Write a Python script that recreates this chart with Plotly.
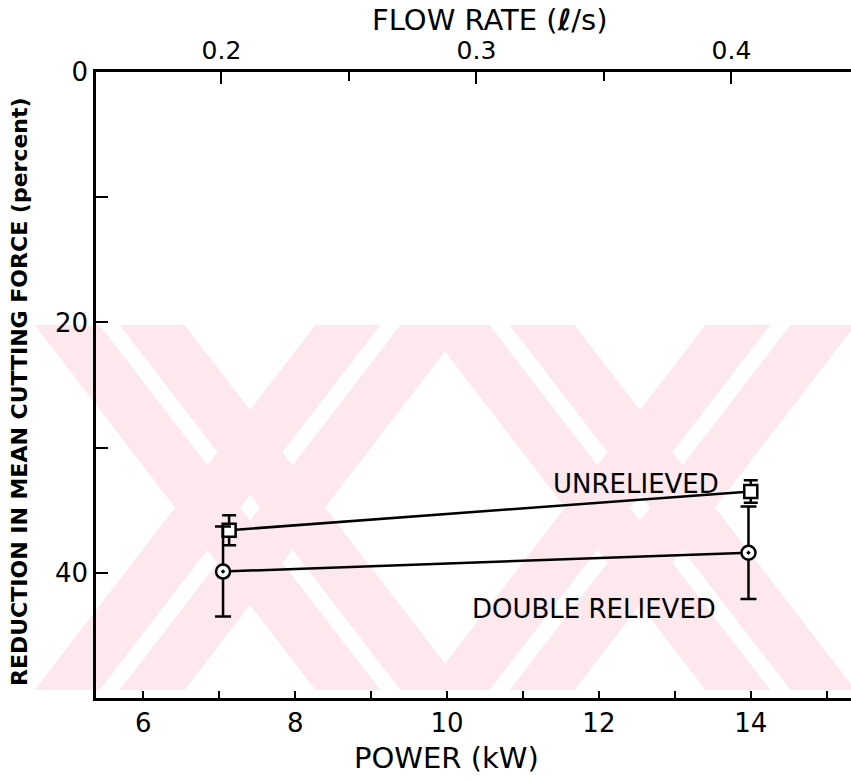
import plotly.graph_objects as go

# Mean cutting force reduction vs. jet power (flow rate on the top scale)
unrel_power = [7.13, 14.0]
unrel_reduction = [36.6, 33.5]
unrel_err = [1.2, 0.9]

dbl_power = [7.05, 13.97]
dbl_reduction = [39.9, 38.4]
dbl_err = [3.6, 3.7]

power_ticks = [6, 8, 10, 12, 14]
reduction_ticks = [0, 20, 40]
flow_ticks = [0.2, 0.3, 0.4]

# plot area in pixels
W, H = 851, 781
L, R, T, B = 96, 851, 72, 698


def px(x, y):
    return (x - L) / (R - L), (B - y) / (B - T)


def poly(points):
    pts = [px(x, y) for x, y in points]
    return "M " + " L ".join(f"{a:.4f},{b:.4f}" for a, b in pts) + " Z"


PINK = "rgb(253,233,237)"
shapes = []
# faint background emblem: two large crossed marks drawn with doubled strokes
ytop, ybot = 325, 690
mid = (ytop + ybot) / 2
slope = 1.3
half = 75      # half stroke width (horizontal)
gap = 10       # half width of the thin light line inside each stroke


def arm(cx, direction, lo, hi):
    # direction +1 for "\" (down-right), -1 for "/" (down-left)
    xt = cx - direction * (mid - ytop) / slope
    xb = cx + direction * (ybot - mid) / slope
    return poly([(xt + lo, ytop), (xt + hi, ytop), (xb + hi, ybot), (xb + lo, ybot)])


for cx in [250, 640]:
    for d in (1, -1):
        for lo, hi in [(-half, -gap), (gap, half)]:
            shapes.append(dict(type="path", xref="paper", yref="paper", layer="below",
                               fillcolor=PINK, line=dict(width=0), path=arm(cx, d, lo, hi)))

FONT = "DejaVu Sans"
LW = 2.5

fig = go.Figure()
fig.add_trace(go.Scatter(
    x=unrel_power, y=unrel_reduction, mode="lines+markers",
    line=dict(color="black", width=LW),
    marker=dict(symbol="square", size=13, color="white", line=dict(color="black", width=LW)),
    error_y=dict(type="data", array=unrel_err, color="black", thickness=LW, width=7),
    showlegend=False))
fig.add_trace(go.Scatter(
    x=dbl_power, y=dbl_reduction, mode="lines+markers",
    line=dict(color="black", width=LW),
    marker=dict(symbol="circle-dot", size=14, color="white", line=dict(color="black", width=LW)),
    error_y=dict(type="data", array=dbl_err, color="black", thickness=LW, width=8),
    showlegend=False))
# invisible trace carrying the flow-rate scale
fig.add_trace(go.Scatter(x=flow_ticks, y=[None] * len(flow_ticks), xaxis="x2",
                         mode="markers", showlegend=False, hoverinfo="skip"))

fig.add_annotation(x=13.61, y=32.9, text="UNRELIEVED", showarrow=False,
                   xanchor="right", yanchor="middle", font=dict(family=FONT, size=26, color="black"))
fig.add_annotation(x=13.57, y=42.9, text="DOUBLE RELIEVED", showarrow=False,
                   xanchor="right", yanchor="middle", font=dict(family=FONT, size=26, color="black"))

ax, ay = px(490, 20)
fig.add_annotation(xref="paper", yref="paper", x=ax, y=ay, text="FLOW RATE (<b><i>ℓ</i></b>/s)",
                   showarrow=False, xanchor="center", yanchor="middle",
                   font=dict(family=FONT, size=29, color="black"))
ax, ay = px(446, 758)
fig.add_annotation(xref="paper", yref="paper", x=ax, y=ay, text="POWER (kW)",
                   showarrow=False, xanchor="center", yanchor="middle",
                   font=dict(family=FONT, size=29, color="black"))
ax, ay = px(19, 392)
fig.add_annotation(xref="paper", yref="paper", x=ax, y=ay,
                   text="REDUCTION IN MEAN CUTTING FORCE (percent)", textangle=-90,
                   showarrow=False, xanchor="center", yanchor="middle",
                   font=dict(family=FONT, size=22, color="black", weight="bold"))

axis_common = dict(showline=True, linecolor="black", linewidth=LW, showgrid=False,
                   zeroline=False, ticks="inside", tickcolor="black", tickwidth=2,
                   tickfont=dict(family=FONT, size=26, color="black"))

fig.update_layout(
    width=W, height=H, margin=dict(l=L, r=W - R, t=T, b=H - B),
    plot_bgcolor="rgba(0,0,0,0)", paper_bgcolor="white",
    shapes=shapes,
    xaxis=dict(range=[5.377, 15.32], tickvals=power_ticks, ticklen=7,
               minor=dict(dtick=1, tick0=0, ticks="inside", ticklen=7, tickcolor="black", tickwidth=2),
               **axis_common),
    xaxis2=dict(range=[0.1508, 0.4469], overlaying="x", side="top", tickvals=flow_ticks,
                tickformat=".1f", ticklen=12,
                minor=dict(dtick=0.05, tick0=0, ticks="inside", ticklen=9, tickcolor="black", tickwidth=2),
                **{**axis_common, "tickfont": dict(family=FONT, size=25, color="black")}),
    yaxis=dict(range=[50, 0], tickvals=reduction_ticks, ticklen=12,
               minor=dict(dtick=10, tick0=0, ticks="inside", ticklen=12, tickcolor="black", tickwidth=2),
               **axis_common),
)

fig.write_html("out.html")
